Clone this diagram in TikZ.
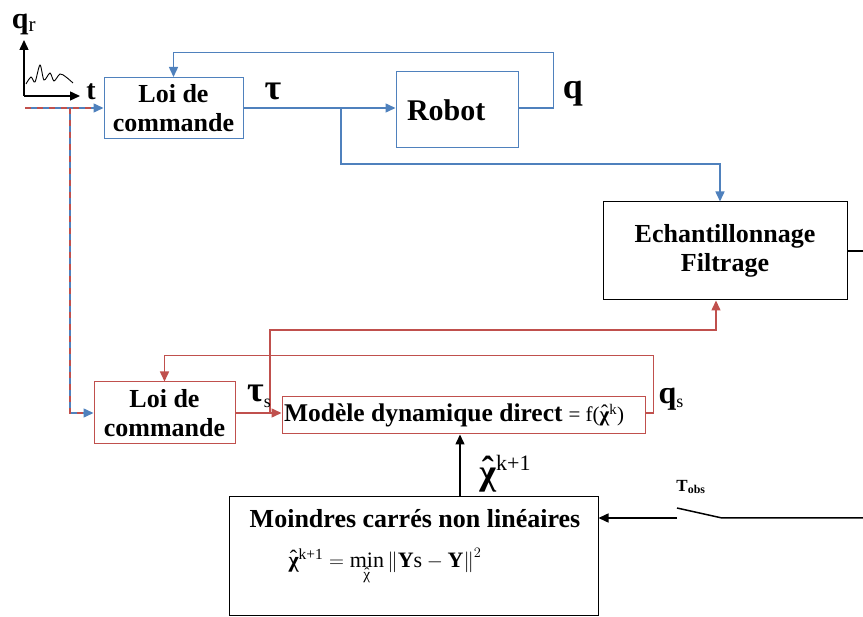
\documentclass[tikz,border=0pt]{standalone}
\usepackage{fontspec}
\setmainfont{Liberation Serif}
\usepackage{amsmath}
\usetikzlibrary{arrows.meta,positioning}
\definecolor{bleu}{RGB}{79,129,189}
\definecolor{rouge}{RGB}{192,80,77}
\newcommand{\chapeau}[1]{{\ooalign{#1\cr\hidewidth\raisebox{0.1em}{ˆ}\hidewidth\cr}}}

\begin{document}
\begin{tikzpicture}[x=1pt, y=-1pt,
    bloc/.style={rectangle, draw=black, line width=1pt, inner sep=2pt, text centered, align=center, font=\fontsize{26}{29}\selectfont\bfseries},
    blocbleu/.style={bloc, draw=bleu},
    blocrouge/.style={bloc, draw=rouge},
    lien/.style={line width=1.5pt},
    fleche/.style={lien, -{Triangle[length=10pt,width=9pt]}},
    signal/.style={inner sep=0pt, font=\fontsize{36}{36}\selectfont\bfseries}
  ]
    \useasboundingbox (0,0) rectangle (863,617);

    % Boucle reelle
    \node (loiA) [blocbleu, minimum width=139pt, minimum height=61pt] at (173.5,108) {Loi de\\commande};
    \node (robot) [blocbleu, minimum width=122pt, minimum height=76pt, inner xsep=11pt, text width=100pt, align=flush left, font=\fontsize{30}{34}\selectfont\bfseries] at (457,110) {Robot};
    \node (echant) [bloc, minimum width=244pt, minimum height=98pt] at (725,251) {Echantillonnage\\Filtrage};

    % Boucle simulee
    \node (loiB) [blocrouge, minimum width=141pt, minimum height=62pt] at (164.5,413) {Loi de\\commande};
    \node (modele) [blocrouge, minimum width=363pt, minimum height=37pt, text width=359pt, align=flush left, font=\fontsize{25.5}{28}\selectfont\bfseries] at (463.5,415.5) {Mod\`ele dynamique direct\hspace{6pt}{\mdseries\fontsize{21}{24}\selectfont = f(\chapeau{\bfseries χ}\textsuperscript{k})}};

    % Identification
    \node (moindres) [bloc, minimum width=369pt, minimum height=119pt] at (413.5,556.5) {};
    \node (titre) [font=\fontsize{26}{29}\selectfont\bfseries, inner sep=0pt] at (415,519) {Moindres carr\'es non lin\'eaires};
    \node (critere) [font=\fontsize{22}{26}\selectfont, inner sep=0pt] at (385,565) {$\text{\chapeau{\bfseries χ}}^{\text{k+1}} = \min\limits_{\text{\chapeau{χ}}} \left\|\text{\bfseries Y}\text{s} - \text{\bfseries Y}\right\|^{2}$};

    % Consigne
    \draw[line width=1.4pt, -{Triangle[length=10pt,width=9pt]}] (24,96) -- (24,40);
    \draw[line width=1.4pt, -{Triangle[length=10pt,width=9pt]}] (24,96) -- (80,96);
    \draw[line width=0.9pt] plot[smooth] coordinates {(26,84) (31,77) (35,82) (40,65) (44,80) (50,73) (54,81) (60,74) (66,77) (73,83)};
    \node (qr) [inner sep=0pt, font=\fontsize{30}{30}\selectfont] at (24,24) {\textbf{q}\textsubscript{r}};
    \node (temps) [inner sep=0pt, font=\fontsize{28}{28}\selectfont\bfseries] at (91,92) {t};

    \coordinate (entree) at (25,108);
    \coordinate (br1) at (70,108);
    \draw[fleche, bleu] (entree) -- (loiA.west);
    \draw[lien, rouge, dash pattern=on 6pt off 6pt] (entree) -- ([xshift=-10pt]loiA.west);
    \draw[fleche, bleu] (br1) |- (loiB.west);
    \draw[lien, rouge, dash pattern=on 6pt off 6pt] (br1) |- ([xshift=-10pt]loiB.west);

    % Liaisons bleues
    \coordinate (br2) at (341,108);
    \coordinate (c1) at (341,164);
    \draw[fleche, bleu] (loiA.east) -- (loiA.east -| robot.west);
    \draw[fleche, bleu] (robot.east |- loiA.east) -- ++(35,0) |- ([yshift=24.5pt]loiA.north) -- (loiA.north);
    \draw[fleche, bleu] (br2) -- (c1) -| ([xshift=-5pt]echant.north);
    \node (tau) [signal] at (273,91) {τ};
    \node (q) [signal] at (573,94) {q};

    % Liaisons rouges
    \coordinate (br3) at (270,413);
    \draw[fleche, rouge] (loiB.east) -- (loiB.east -| modele.west);
    \draw[fleche, rouge] (br3) -- ++(0,-83) -| ([xshift=-9pt]echant.south);
    \draw[fleche, rouge] (modele.east |- loiB.east) -- ++(8,0) |- ([yshift=26pt]loiB.north) -- (loiB.north);
    \node (taus) [inner sep=0pt] at (259,396) {{\fontsize{36}{36}\selectfont\bfseries τ}{\fontsize{18}{18}\selectfont\raisebox{-6pt}{s}}};
    \node (qs) [inner sep=0pt] at (671,399) {{\fontsize{32}{32}\selectfont\bfseries q}{\fontsize{18}{18}\selectfont\raisebox{-4pt}{s}}};

    % Liaisons noires
    \draw[fleche] ([xshift=46.5pt]moindres.north) -- ([xshift=46.5pt]moindres.north |- modele.south);
    \node (chi) [inner sep=0pt] at (505,470) {{\fontsize{36}{36}\selectfont\bfseries\chapeau{χ}}{\fontsize{22}{22}\selectfont\raisebox{14pt}{k+1}}};
    \coordinate (bordA) at (863,251);
    \draw[lien] (echant.east) -- (bordA);
    \coordinate (sw1) at (677,518);
    \coordinate (lame) at (677,508);
    \coordinate (sw2) at (722,518);
    \coordinate (bordB) at (863,518);
    \draw[fleche] (sw1) -- (sw1 -| moindres.east);
    \draw[lien] (lame) -- (sw2) -- (bordB);
    \node (tobs) [inner sep=0pt, font=\fontsize{17}{17}\selectfont\bfseries] at (691,487) {T\textsubscript{obs}};

  \end{tikzpicture}
\end{document}
